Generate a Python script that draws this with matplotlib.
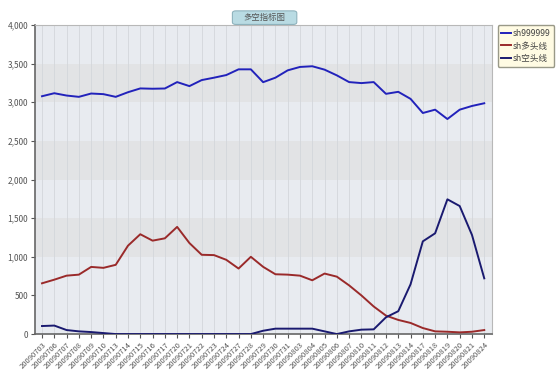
import matplotlib
matplotlib.use("Agg")
import matplotlib.pyplot as plt
from matplotlib.patches import FancyBboxPatch
from matplotlib.ticker import FuncFormatter

plt.rcParams['font.family'] = ['Noto Sans CJK SC', 'DejaVu Sans']

dates = ["20090703", "20090706", "20090707", "20090708", "20090709", "20090710",
         "20090713", "20090714", "20090715", "20090716", "20090717", "20090720",
         "20090721", "20090722", "20090723", "20090724", "20090727", "20090728",
         "20090729", "20090730", "20090731", "20090803", "20090804", "20090805",
         "20090806", "20090807", "20090810", "20090811", "20090812", "20090813",
         "20090814", "20090817", "20090818", "20090819", "20090820", "20090821",
         "20090824"]

sh999999 = [3078, 3117, 3087, 3070, 3113, 3105, 3070, 3130, 3179, 3175, 3178, 3261,
            3209, 3287, 3318, 3352, 3426, 3426, 3260, 3318, 3413, 3457, 3466, 3422,
            3348, 3261, 3248, 3261, 3109, 3135, 3044, 2861, 2904, 2783, 2904, 2952,
            2987]
sh_long = [657, 704, 756, 769, 869, 857, 896, 1144, 1292, 1209, 1239, 1387,
           1178, 1026, 1022, 961, 848, 1000, 870, 774, 769, 756, 696, 783,
           743, 630, 500, 357, 239, 183, 144, 78, 35, 30, 22, 30, 52]
sh_short = [104, 110, 52, 35, 26, 13, 0, 0, 0, 0, 0, 0,
            0, 0, 0, 0, 0, 0, 43, 70, 70, 70, 70, 35,
            0, 35, 57, 61, 217, 296, 644, 1200, 1304, 1744, 1657, 1283, 721]

fig = plt.figure(figsize=(5.6, 3.88), dpi=100)
ax = fig.add_axes([0.0625, 0.139, 0.8165, 0.7966])

# background bands
ax.set_facecolor("#e8ebf0")
for lo in (1000, 2000, 3000):
    ax.axhspan(lo, lo + 500, color="#e2e3e5", zorder=0, lw=0)

x = list(range(len(dates)))
for xi in x:
    ax.axvline(xi, color="#d3d6db", lw=0.6, zorder=0.5)

ax.plot(x, sh999999, color="#2222bb", lw=1.4, label="sh999999", zorder=3)
ax.plot(x, sh_long, color="#9a2a2a", lw=1.4, label="sh多头线", zorder=3)
ax.plot(x, sh_short, color="#1a1a70", lw=1.4, label="sh空头线", zorder=3)

ax.set_xlim(-0.57, 36.65)
ax.set_ylim(0, 4000)
ax.set_yticks(range(0, 4001, 500))
ax.yaxis.set_major_formatter(FuncFormatter(lambda v, p: f"{int(v):,}"))
ax.set_xticks(x)
ax.set_xticklabels(dates, rotation=45, ha="right", rotation_mode="anchor")
ax.tick_params(axis="x", labelsize=5.5, colors="#555555", length=3, width=0.8, pad=2)
ax.tick_params(axis="y", labelsize=6, colors="#555555", length=3, width=0.8, pad=2)

for side in ("top", "right"):
    ax.spines[side].set_color("#b8b8b8")
    ax.spines[side].set_linewidth(0.8)
ax.spines["left"].set_color("#666666")
ax.spines["bottom"].set_color("#666666")
ax.spines["left"].set_linewidth(1.2)
ax.spines["bottom"].set_linewidth(1.2)

# title tab
tab = FancyBboxPatch((0.415, 0.937), 0.115, 0.035, boxstyle="round,pad=0,rounding_size=0.006",
                     transform=fig.transFigure, facecolor="#b9dbe3", edgecolor="#8fb3bd", lw=0.8)
fig.patches.append(tab)
fig.text(0.4725, 0.954, "多空指标图", ha="center", va="center", fontsize=6, color="#555555")

leg = ax.legend(loc="upper left", bbox_to_anchor=(1.008, 1.005), fontsize=6.2, frameon=True,
                handlelength=1.2, handletextpad=0.2, borderpad=0.4, labelspacing=0.45,
                borderaxespad=0.2, fancybox=True)
leg.get_frame().set_facecolor("#fffbe3")
leg.get_frame().set_edgecolor("#999988")
leg.get_frame().set_alpha(1)
for t in leg.get_texts():
    t.set_color("#444444")

fig.savefig("out.png", dpi=100)
